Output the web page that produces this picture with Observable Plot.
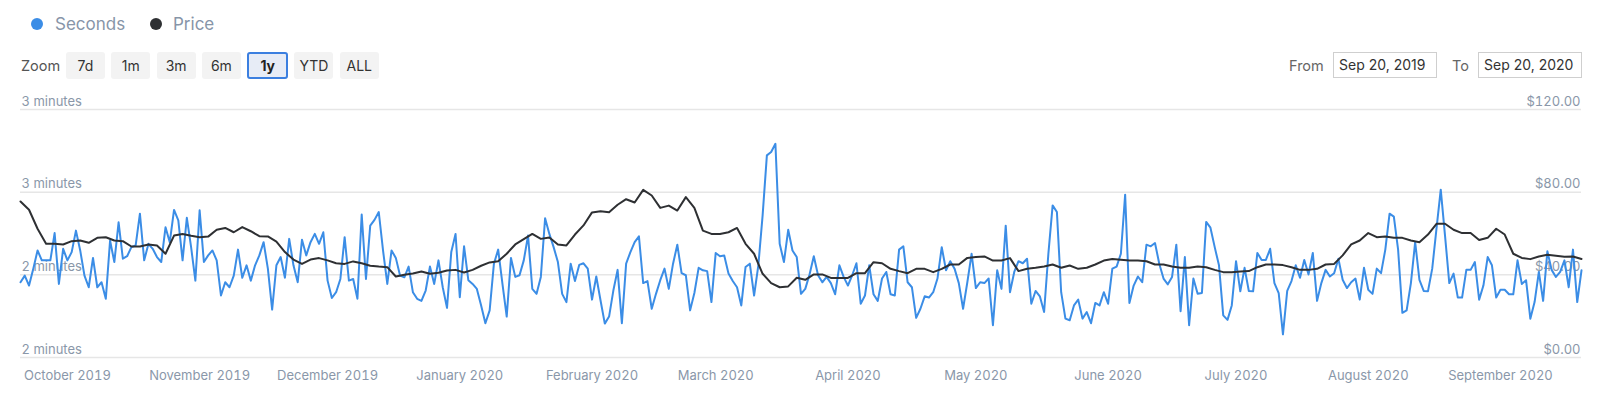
<!DOCTYPE html>
<html>
<head>
<meta charset="utf-8">
<script src="https://cdn.jsdelivr.net/npm/d3@7"></script>
<script src="https://cdn.jsdelivr.net/npm/@observablehq/plot@0.6"></script>
<style>
  html, body { margin: 0; padding: 0; background: #fff; }
  body { width: 1600px; height: 399px; overflow: hidden; position: relative; font-family: Inter, "Noto Sans", sans-serif; }
  .dot { position: absolute; width: 12px; height: 12px; border-radius: 50%; top: 18px; }
  .legtext { position: absolute; top: 12px; height: 24px; line-height: 24px; font-size: 17px; color: #8795a8; }
  .zoomlbl { position: absolute; left: 21px; top: 52px; height: 27px; line-height: 27px; font-size: 14.5px; color: #555; }
  .btns { position: absolute; left: 66px; top: 52px; display: flex; gap: 6.3px; }
  .btn { width: 39px; height: 27px; line-height: 27px; text-align: center; background: #f3f3f3; border-radius: 3px; font-size: 14px; color: #333; box-sizing: border-box; }
  .btn.sel { width: 41px; background: #e7ecf6; border: 2px solid #3b7fe0; line-height: 23px; font-weight: 700; color: #222; }
  .lbl { position: absolute; top: 52px; height: 27px; line-height: 27px; font-size: 14.5px; color: #666; }
  .inp { position: absolute; top: 52px; width: 104px; height: 26px; line-height: 24px; box-sizing: border-box; border: 1px solid #cfcfcf; padding-left: 5px; font-size: 14px; color: #333; background: #fff; }
  #chart { position: absolute; left: 0; top: 88px; }
</style>
</head>
<body>
<div class="dot" style="left:31px;background:#3b8de6"></div>
<div class="legtext" style="left:55px">Seconds</div>
<div class="dot" style="left:150px;background:#2e3033"></div>
<div class="legtext" style="left:173px">Price</div>

<div class="zoomlbl">Zoom</div>
<div class="btns" id="btns"></div>

<div class="lbl" style="left:1289px">From</div>
<div class="inp" style="left:1333px">Sep 20, 2019</div>
<div class="lbl" style="left:1452px">To</div>
<div class="inp" style="left:1478px">Sep 20, 2020</div>

<div id="chart"></div>

<script>
// ---- data ----
const zoomButtons = ["7d", "1m", "3m", "6m", "1y", "YTD", "ALL"];
const selectedButton = "1y";
const startDate = "2019-09-20";
const endDate = "2020-09-20";
const monthTicks = ["2019-10-01","2019-11-01","2019-12-01","2020-01-01","2020-02-01","2020-03-01",
  "2020-04-01","2020-05-01","2020-06-01","2020-07-01","2020-08-01","2020-09-01"];
const priceTicks = [0, 40, 80, 120];

// daily seconds, Sep 20 2019 .. Sep 20 2020
const seconds = [
138.2,139.8,137.4,141.5,145.9,143.5,143.5,143.5,150.1,137.8,
146.3,143.5,145.5,150.7,145.9,139.8,137.0,144.1,137.0,138.2,
134.2,148.3,143.1,152.7,143.9,144.5,146.7,147.1,154.8,143.5,
147.5,146.3,144.3,143.1,151.5,147.9,155.7,153.2,143.5,153.8,
146.7,138.6,155.6,143.1,144.7,145.9,143.5,
135.0,138.2,137.0,139.8,146.1,139.3,142.3,138.6,142.3,144.7,
147.9,141.5,131.6,142.3,144.3,139.3,148.7,142.3,138.2,148.5,
144.7,147.9,149.9,147.5,150.3,138.6,134.4,135.8,139.0,149.1,
138.6,139.0,134.2,154.6,139.0,151.9,153.3,155.2,145.9,137.8,
145.9,144.1,139.8,139.4,142.0,
135.8,134.2,133.7,136.2,142.0,137.8,143.5,137.0,132.0,145.5,
149.9,134.6,146.9,138.7,137.8,136.6,132.6,128.3,131.4,142.7,
146.1,137.8,129.9,144.1,139.5,139.9,143.5,149.5,136.6,135.4,
139.5,153.7,149.9,146.7,143.1,135.4,133.4,142.7,138.5,142.4,
142.8,141.5,134.0,139.6,133.8,128.2,129.9,136.2,141.2,128.3,
142.7,145.5,147.9,149.3,138.0,138.5,131.8,135.4,138.7,141.5,
136.6,142.7,147.3,140.4,139.9,131.4,135.6,141.7,141.1,140.9,
133.4,145.3,144.5,144.7,140.3,138.5,137.0,132.6,141.9,142.7,
135.0,142.3,154.4,168.9,169.7,171.7,147.5,143.1,150.9,145.9,
144.3,135.4,
136.6,140.1,144.5,139.9,138.2,139.5,138.0,135.3,142.3,139.5,
137.4,139.9,142.8,133.0,135.0,142.3,135.3,133.7,139.1,140.7,
135.3,135.0,146.1,146.9,138.2,137.0,129.6,131.8,134.8,134.5,
135.8,139.1,146.7,141.1,143.3,141.5,138.0,131.8,138.2,145.1,
136.8,138.2,138.0,139.1,127.8,141.1,136.6,151.9,135.8,140.7,
143.3,142.8,143.9,133.0,136.1,134.8,131.0,145.1,156.8,155.2,
135.8,129.4,129.0,132.6,134.0,129.4,131.0,128.3,133.2,132.6,
135.8,133.0,141.5,142.0,145.1,159.4,133.2,137.4,139.6,138.2,
147.3,146.9,147.7,142.7,139.1,137.7,139.5,147.3,131.2,144.3,
127.8,139.1,135.4,
135.6,152.8,151.4,146.7,142.3,130.2,129.1,132.6,143.3,136.0,
141.7,136.1,136.0,145.3,143.6,143.6,146.3,138.0,135.6,125.6,
136.1,138.5,142.3,139.3,143.6,140.1,145.3,133.7,138.0,141.2,
139.6,140.4,143.9,138.8,136.8,138.2,139.1,134.0,141.7,136.4,
135.4,141.5,140.4,146.1,154.8,154.1,146.1,130.8,131.4,138.0,
147.9,138.8,136.1,136.0,141.5,151.2,160.6,149.5,138.0,140.3,
134.5,134.5,141.2,141.2,143.1,134.0,137.4,144.3,142.3,134.5,
136.4,136.4,135.3,135.3,143.5,137.8,138.7,129.4,133.4,140.7,
133.7,145.7,141.2,139.5,140.7,143.5,137.0,146.1,133.4,141.1
];

// price (USD), one reading every 2 days from Sep 20 2019
const price = [
75.5,71.5,62.3,55.0,55.0,54.7,56.3,56.6,55.5,57.9,58.2,56.6,56.3,53.7,53.7,54.7,54.2,50.2,59.0,59.8,58.9,58.2,58.5,61.8,
62.7,60.6,63.1,61.1,58.7,58.6,56.1,51.0,47.4,45.3,47.4,48.1,47.0,45.6,45.3,46.5,45.6,44.4,44.0,43.7,39.2,40.0,
40.6,41.6,40.5,41.0,42.1,42.4,41.1,42.4,44.4,46.0,46.6,50.2,54.7,57.3,59.8,57.4,58.1,54.7,54.2,59.5,
63.9,70.2,70.8,70.3,73.9,76.6,75.0,81.1,78.4,72.4,73.5,71.1,77.6,72.4,61.4,59.8,59.8,60.6,62.7,55.0,
50.2,40.5,36.0,34.0,34.4,38.6,
37.6,40.2,40.2,38.5,38.5,38.5,40.8,40.8,46.1,45.6,42.9,41.8,40.8,42.9,42.9,41.3,42.9,45.0,45.0,48.2,
48.6,48.9,46.9,46.9,48.1,41.8,42.9,43.4,44.0,45.0,43.4,44.5,42.9,43.4,45.0,46.9,47.7,47.3,46.9,46.9,
46.6,45.0,45.0,44.0,43.4,43.4,44.0,
43.7,42.4,41.3,41.3,41.6,41.8,43.7,45.0,45.0,44.7,43.7,42.4,42.4,42.9,45.0,45.3,49.4,54.7,56.6,60.2,
58.2,58.6,57.9,57.9,56.6,55.8,59.5,64.7,64.7,61.8,60.2,60.2,56.9,57.9,62.3,59.5,50.2,48.2,47.6,48.9,
49.7,49.2,48.7,48.9,47.7
];

// ---- buttons ----
const btns = document.getElementById("btns");
zoomButtons.forEach(b => {
  const el = document.createElement("div");
  el.className = "btn" + (b === selectedButton ? " sel" : "");
  el.textContent = b;
  btns.appendChild(el);
});

// ---- chart ----
const start = new Date(startDate + "T00:00:00Z");
const end = new Date(endDate + "T00:00:00Z");
const secData = seconds.map((v, i) => ({date: d3.utcDay.offset(start, i), v}));
const priceData = price.map((v, i) => ({date: d3.utcDay.offset(start, 2 * i), v}));
const months = monthTicks.map(s => new Date(s + "T00:00:00Z"));

// dual axis: 120 s ↔ $0, 180 s ↔ $120
const secToPrice = s => (s - 120) * 2;
const leftFmt = p => `${Math.round((120 + p / 2) / 60)} minutes`;
const rightFmt = p => "$" + p.toFixed(2);

const chart = Plot.plot({
  width: 1600,
  height: 311,
  marginLeft: 20,
  marginRight: 19,
  marginTop: 21,
  marginBottom: 42,
  style: {fontFamily: "Inter, 'Noto Sans', sans-serif", fontSize: "13px", color: "#8a97a9", background: "transparent", overflow: "visible"},
  x: {type: "utc", domain: [start, end], label: null},
  y: {domain: [0, 120], label: null},
  marks: [
    Plot.gridY(priceTicks, {stroke: "#e6e6e6", strokeOpacity: 1, strokeWidth: 1.5}),
    Plot.axisY(priceTicks, {anchor: "left", label: null, tickSize: 0, tickPadding: 0, textAnchor: "start", lineAnchor: "bottom", dx: 1, dy: -4, tickFormat: leftFmt}),
    Plot.axisY(priceTicks, {anchor: "right", label: null, tickSize: 0, tickPadding: 0, textAnchor: "end", lineAnchor: "bottom", dx: -1, dy: -4, tickFormat: rightFmt}),
    Plot.axisX(months, {anchor: "bottom", label: null, tickSize: 0, tickPadding: 13, tickFormat: d3.utcFormat("%B %Y")}),
    Plot.lineY(secData, {x: "date", y: d => secToPrice(d.v), stroke: "#3b8de6", strokeWidth: 2, strokeLinejoin: "round"}),
    Plot.lineY(priceData, {x: "date", y: "v", stroke: "#2e3033", strokeWidth: 2, strokeLinejoin: "round"})
  ]
});
document.getElementById("chart").appendChild(chart);
</script>
</body>
</html>
